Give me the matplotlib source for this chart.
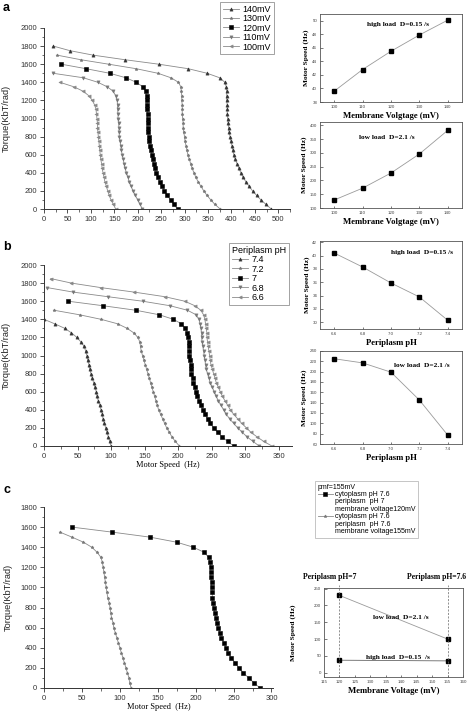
import matplotlib
matplotlib.use("Agg")
import matplotlib.pyplot as plt
from matplotlib.lines import Line2D
from matplotlib.ticker import MultipleLocator

W, H = 468, 712
fig = plt.figure(figsize=(W / 100, H / 100), dpi=100)
SANS = "Liberation Sans"
SERIF = "Liberation Serif"

# ---------------- data ----------------
T_LEVELS = [1850, 1800, 1750, 1700, 1650, 1600, 1550, 1500, 1450, 1400, 1350, 1300,
            1250, 1200, 1150, 1100, 1050, 1000, 950, 900, 850, 800, 750, 700, 650,
            600, 550, 500, 450, 400, 350, 300, 250, 200, 150, 100, 50, 0]

# panel a: speed (Hz) per torque level (aligned with tail of T_LEVELS)
a_labels = ["140mV", "130mV", "120mV", "110mV", "100mV"]
a_140 = [20, 55, 105, 172, 245, 308, 348, 375, 386,
         389, 390, 390, 390, 391, 391, 391, 392, 393, 394, 395, 397, 399, 401, 403, 405,
         408, 412, 416, 420, 425, 431, 438, 445, 454, 463, 474, 485]
a_130 = [28, 78, 138, 197, 243, 271, 287,
         292, 293, 294, 294, 295, 295, 295, 296, 297, 297, 298, 300, 301, 303, 305, 307,
         310, 313, 316, 320, 324, 329, 335, 341, 348, 356, 365, 376]
a_120 = [37, 90, 140, 175, 197, 211, 217, 219,
         220, 220, 220, 221, 221, 222, 222, 223, 224, 225, 227, 228, 230, 232, 234, 237,
         240, 243, 247, 252, 257, 263, 270, 277, 285]
a_110 = [19, 84, 115, 135, 148, 153,
         156, 157, 157, 158, 158, 159, 160, 160, 161, 162, 164, 165, 167, 169, 171, 173,
         176, 179, 182, 186, 190, 195, 200, 205, 210]
a_100 = [34, 64, 84, 96, 103, 108, 111,
         112, 113, 114, 114, 115, 116, 117, 118, 119, 120, 121, 123, 124, 126, 128, 130,
         133, 136, 139, 143, 148, 153]

# panel b
b_labels = ["7.4", "7.2", "7", "6.8", "6.6"]
b_74 = [0, 16, 31, 41, 49, 55, 60,
        62, 64, 65, 67, 68, 70, 72, 74, 76, 78, 79, 81, 83, 85, 87, 88, 90, 92, 94, 96,
        98, 100]
b_72 = [15, 53, 85, 110, 124, 134, 140, 143,
        144, 145, 147, 149, 151, 153, 155, 157, 159, 161, 163, 165, 167, 169, 171, 174,
        177, 180, 183, 187, 191, 196, 202]
b_70 = [36, 88, 137, 172, 193, 205, 211, 214,
        215, 216, 216, 217, 217, 218, 219, 219, 220, 222, 223, 225, 227, 229, 231, 234,
        237, 240, 244, 248, 253, 259, 266, 274, 283]
b_68 = [5, 44, 95, 147, 188, 214, 227, 231,
        233, 234, 235, 235, 236, 237, 238, 239, 240, 241, 242, 244, 246, 248, 251, 254,
        257, 260, 264, 268, 272, 277, 283, 289, 296, 303, 312, 321]
b_66 = [10, 41, 85, 135, 180, 210, 225, 234, 238,
        240, 241, 242, 243, 243, 244, 245, 246, 247, 248, 249, 251, 253, 255, 257, 260,
        263, 266, 270, 274, 278, 283, 289, 295, 302, 309, 318, 328, 340]

# panel c
c_black = [37, 90, 140, 175, 197, 211, 217, 219,
           220, 220, 220, 221, 221, 222, 222, 223, 224, 225, 227, 228, 230, 232, 234, 237,
           240, 243, 247, 252, 257, 263, 270, 277, 285]
c_gray = [21, 37, 52, 63, 70, 75,
          77, 78, 79, 80, 81, 82, 83, 84, 86, 87, 88, 89, 91, 92, 94, 96, 98, 100, 102,
          104, 106, 108, 110, 112, 113, 115]
c_title = "pmf=155mV"
c_lines_black = ["cytoplasm pH 7.6", "periplasm  pH 7", "membrane voltage120mV"]
c_lines_gray = ["cytoplasm pH 7.6", "periplasm  pH 7.6", "membrane voltage155mV"]

# right-hand small plots
volt = [100, 110, 120, 130, 140]
volt_high = [39.6, 42.8, 45.5, 47.9, 50.1]
volt_low = [129, 172, 227, 296, 382]
ph = [6.6, 6.8, 7.0, 7.2, 7.4]
ph_high = [40.4, 38.3, 35.9, 33.8, 30.3]
ph_low = [225, 217, 199, 145, 77]
cv = [120, 155]
cv_low = [230, 100]
cv_high = [37, 35]

# ---------------- helpers ----------------
def ax_px(l, t, r, b):
    return fig.add_axes([l / W, 1 - b / H, (r - l) / W, (b - t) / H])

LINE_C = "#8a8a8a"

def torque_axes(ax, xmax, ymax, xmaj, ymaj=200):
    ax.set_xlim(0, xmax)
    ax.set_ylim(0, ymax)
    for s in ("top", "right"):
        ax.spines[s].set_visible(False)
    for s in ("left", "bottom"):
        ax.spines[s].set_linewidth(0.7)
        ax.spines[s].set_color("#333333")
    ax.xaxis.set_major_locator(MultipleLocator(xmaj))
    ax.xaxis.set_minor_locator(MultipleLocator(xmaj / 2))
    ax.yaxis.set_major_locator(MultipleLocator(ymaj))
    ax.yaxis.set_minor_locator(MultipleLocator(ymaj / 2))
    ax.tick_params(which="major", length=3, width=0.6, labelsize=5.5, pad=2, colors="#333333")
    ax.tick_params(which="minor", length=1.8, width=0.5, colors="#333333")
    for lab in ax.get_xticklabels() + ax.get_yticklabels():
        lab.set_fontfamily(SANS)
    ax.set_ylabel("Torque(KbT/rad)", fontfamily=SANS, fontsize=6.6, color="#222222")
    ax.yaxis.set_label_coords(-37 / ax.bbox.width * fig.dpi / 100 * 1.0 if False else -0.135, 0.5)

def draw_curve(ax, speeds, marker, mcolor, label, ms=2.3):
    torques = T_LEVELS[-len(speeds):]
    ax.plot(speeds, torques, color=LINE_C, lw=0.6, marker=marker, ms=ms,
            mfc=mcolor, mec=mcolor, mew=0.4, label=label)

def small_axes(ax, xlim, ylim, xticks, yticks, xlabel):
    ax.set_xlim(*xlim)
    ax.set_ylim(*ylim)
    ax.set_xticks(xticks)
    ax.set_yticks(yticks)
    ax.set_xticklabels(["{:g}".format(v) for v in xticks])
    ax.set_yticklabels(["{:g}".format(v) for v in yticks])
    ax.tick_params(which="major", direction="in", length=1.8, width=0.5, labelsize=3.2,
                   pad=2, colors="#444444")
    for lab in ax.get_xticklabels() + ax.get_yticklabels():
        lab.set_fontfamily(SANS)
    for s in ax.spines.values():
        s.set_linewidth(0.6)
        s.set_color("#555555")
    ax.set_xlabel(xlabel, fontfamily=SERIF, fontweight="bold", fontsize=6.2, labelpad=2)
    ax.set_ylabel("Motor Speed (Hz)", fontfamily=SERIF, fontweight="bold", fontsize=5.3,
                  labelpad=2)

def small_line(ax, x, y):
    ax.plot(x, y, color="#9a9a9a", lw=0.6, marker="s", ms=2.2, mfc="black", mec="black")

# ---------------- panel a ----------------
axa = ax_px(44, 28, 290, 209)
a_series = [(a_140, "^", "#333333"), (a_130, "*", "#777777"), (a_120, "s", "black"),
            (a_110, "v", "#777777"), (a_100, "<", "#888888")]
for (sp, mk, mc), lab in zip(a_series, a_labels):
    draw_curve(axa, sp, mk, mc, lab)
torque_axes(axa, 525, 2000, 50)
h, l = axa.get_legend_handles_labels()
leg = fig.legend(h, l, loc="upper left", bbox_to_anchor=(220 / W, 1 - 2 / H),
                 prop={"family": SANS, "size": 6.5}, frameon=True, fancybox=False,
                 handlelength=1.8, handletextpad=0.4, labelspacing=0.05,
                 borderpad=0.3, borderaxespad=0)
leg.get_frame().set_edgecolor("#777777")
leg.get_frame().set_linewidth(0.6)
fig.text(3 / W, 1 - 2 / H, "a", fontfamily=SANS, fontweight="bold", fontsize=9, va="top")

# ---------------- panel b ----------------
axb = ax_px(44, 265, 292, 446)
b_series = [(b_74, "^", "#333333"), (b_72, "*", "#777777"), (b_70, "s", "black"),
            (b_68, "v", "#777777"), (b_66, "<", "#888888")]
for (sp, mk, mc), lab in zip(b_series, b_labels):
    draw_curve(axb, sp, mk, mc, lab)
torque_axes(axb, 370, 2000, 50)
axb.set_xlabel("Motor Speed  (Hz)", fontfamily=SERIF, fontsize=6, labelpad=1)
h, l = axb.get_legend_handles_labels()
leg = fig.legend(h, l, loc="upper left", bbox_to_anchor=(229 / W, 1 - 243 / H),
                 prop={"family": SANS, "size": 6.5}, frameon=True, fancybox=False,
                 title="Periplasm pH", title_fontproperties={"family": SANS, "size": 6.5},
                 handlelength=1.8, handletextpad=0.4, labelspacing=0.05,
                 borderpad=0.3, borderaxespad=0, alignment="left")
leg.get_frame().set_edgecolor("#777777")
leg.get_frame().set_linewidth(0.6)
fig.text(3 / W, 1 - 241 / H, "b", fontfamily=SANS, fontweight="bold", fontsize=9, va="top")

# ---------------- panel c ----------------
axc = ax_px(44, 507, 273, 688)
draw_curve(axc, c_black, "s", "black", c_lines_black[0])
draw_curve(axc, c_gray, "*", "#777777", c_lines_gray[0])
torque_axes(axc, 302, 1800, 50)
axc.set_xlabel("Motor Speed  (Hz)", fontfamily=SERIF, fontsize=6, labelpad=1)
hc, lc = axc.get_legend_handles_labels()
blank = Line2D([], [], color="none")
handles = [hc[0], blank, blank, hc[1], blank, blank]
labels = c_lines_black + c_lines_gray
leg = fig.legend(handles, labels, loc="upper left", bbox_to_anchor=(315 / W, 1 - 481 / H),
                 prop={"family": SANS, "size": 5.0}, frameon=True, fancybox=False,
                 title=c_title, title_fontproperties={"family": SANS, "size": 5.0},
                 handlelength=2.2, handletextpad=0.3, labelspacing=0.05,
                 borderpad=0.4, borderaxespad=0, alignment="left")
leg.get_frame().set_edgecolor("#999999")
leg.get_frame().set_linewidth(0.5)
fig.text(3 / W, 1 - 484 / H, "c", fontfamily=SANS, fontweight="bold", fontsize=9, va="top")

# ---------------- right small plots ----------------
ax1 = ax_px(320, 14, 462, 102)
small_line(ax1, volt, volt_high)
small_axes(ax1, (95, 145), (38, 51), volt, [38, 40, 42, 44, 46, 48, 50],
           "Membrane Volgtage (mV)")
ax1.text(0.55, 0.86, "high load  D=0.15 /s", transform=ax1.transAxes, ha="center",
         fontfamily=SERIF, fontweight="bold", fontsize=5.3)

ax2 = ax_px(320, 122, 462, 208)
small_line(ax2, volt, volt_low)
small_axes(ax2, (95, 145), (100, 412), volt, [100, 150, 200, 250, 300, 350, 400],
           "Membrane Volgtage (mV)")
ax2.text(0.47, 0.80, "low load  D=2.1 /s", transform=ax2.transAxes, ha="center",
         fontfamily=SERIF, fontweight="bold", fontsize=5.3)

ax3 = ax_px(320, 241, 462, 329)
small_line(ax3, ph, ph_high)
small_axes(ax3, (6.5, 7.5), (29, 42.2), ph, [30, 32, 34, 36, 38, 40, 42],
           "Periplasm pH")
ax3.set_xticklabels(["6.6", "6.8", "7.0", "7.2", "7.4"])
ax3.text(0.72, 0.85, "high load  D=0.15 /s", transform=ax3.transAxes, ha="center",
         fontfamily=SERIF, fontweight="bold", fontsize=5.3)

ax4 = ax_px(320, 351, 462, 444)
small_line(ax4, ph, ph_low)
small_axes(ax4, (6.5, 7.5), (60, 240), ph, list(range(60, 241, 20)), "Periplasm pH")
ax4.set_xticklabels(["6.6", "6.8", "7.0", "7.2", "7.4"])
ax4.text(0.72, 0.83, "low load  D=2.1 /s", transform=ax4.transAxes, ha="center",
         fontfamily=SERIF, fontweight="bold", fontsize=5.3)

ax5 = ax_px(324, 588, 463, 677)
ax5.plot(cv, cv_low, color="#9a9a9a", lw=0.6, marker="s", ms=2.2, mfc="black", mec="black")
ax5.plot(cv, cv_high, color="#666666", lw=0.6, marker="s", ms=2.2, mfc="black", mec="black")
small_axes(ax5, (115, 160), (-13, 252), list(range(115, 161, 5)), [0, 50, 100, 150, 200, 250],
           "Membrane Voltage (mV)")
for xv in cv:
    ax5.plot([xv, xv], [-13, 262], color="#666666", lw=0.5, ls=(0, (3, 2)), clip_on=False)
ax5.text(140, 160, "low load  D=2.1 /s", ha="center", fontfamily=SERIF, fontweight="bold",
         fontsize=5.3)
ax5.text(139, 42, "high load  D=0.15  /s", ha="center", fontfamily=SERIF, fontweight="bold",
         fontsize=5.3)
fig.text(330 / W, 1 - 577 / H, "Periplasm pH=7", ha="center", va="center",
         fontfamily=SERIF, fontweight="bold", fontsize=5.5)
fig.text(466 / W, 1 - 577 / H, "Periplasm pH=7.6", ha="right", va="center",
         fontfamily=SERIF, fontweight="bold", fontsize=5.5)
ax5.yaxis.set_label_coords(-0.2, 0.5)

fig.savefig("out.png", dpi=100)
